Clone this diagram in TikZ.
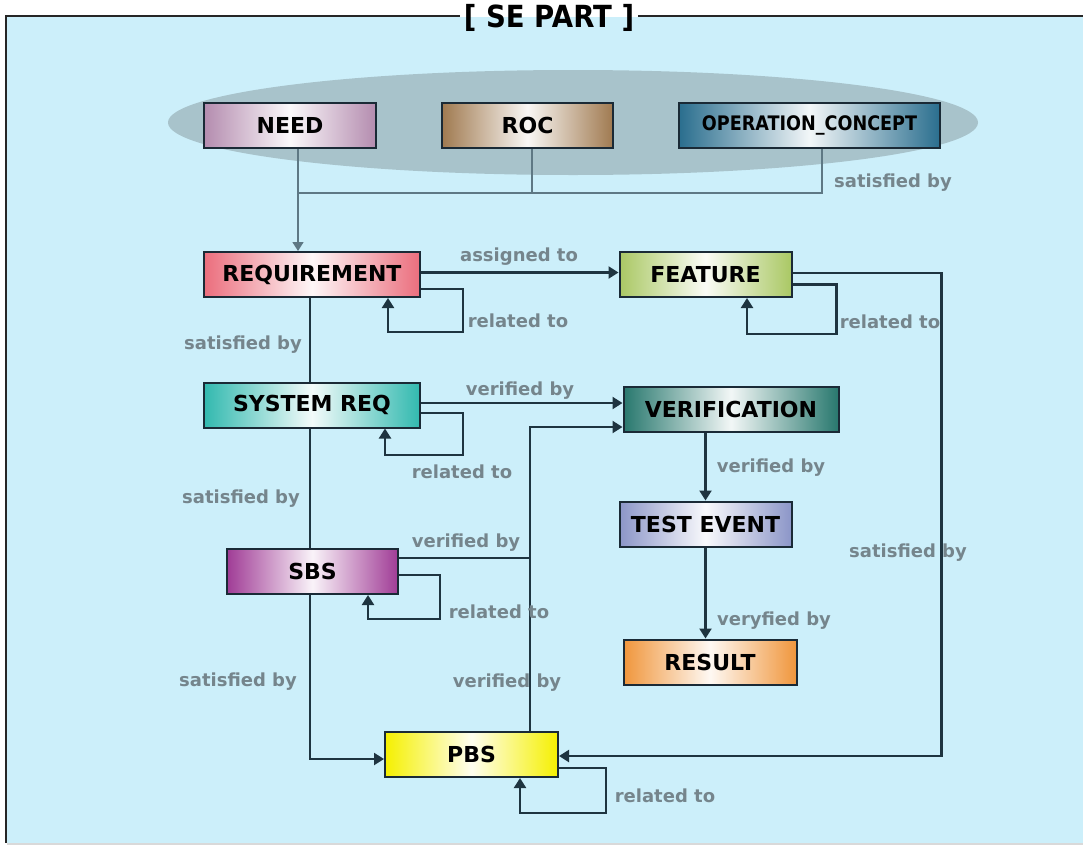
\documentclass[tikz,border=0pt]{standalone}
\usepackage{fontspec}
\setmainfont{DejaVu Sans}
\usetikzlibrary{arrows.meta,calc}
\definecolor{bg}{HTML}{CCEFFA}
\definecolor{ellc}{HTML}{A8C3CB}
\definecolor{boxline}{HTML}{1A2A36}
\definecolor{linec}{HTML}{1E3440}
\definecolor{topc}{HTML}{5E7884}
\definecolor{labgray}{HTML}{75858C}
\definecolor{needc}{HTML}{B48CAF}
\definecolor{rocc}{HTML}{A07A50}
\definecolor{opcc}{HTML}{2A6E8E}
\definecolor{reqc}{HTML}{EB6E7D}
\definecolor{featc}{HTML}{AAC864}
\definecolor{sysc}{HTML}{32B9AF}
\definecolor{verc}{HTML}{28786E}
\definecolor{testc}{HTML}{8C96C8}
\definecolor{sbsc}{HTML}{A03C96}
\definecolor{resc}{HTML}{F0963C}
\definecolor{pbsc}{HTML}{F5F000}
\newcommand{\boxfont}{\fontsize{22}{24}\selectfont\bfseries}
\newcommand{\labfont}{\fontsize{18}{20}\selectfont\bfseries}
\begin{document}
\begin{tikzpicture}[x=1pt,y=-1pt,
  box/.style={draw=boxline, line width=2pt, inner sep=0pt, left color=#1, right color=#1, middle color=#1!6, font=\boxfont, text=black},
  lab/.style={text=labgray, font=\labfont, inner sep=0pt},
  line/.style={draw=linec, line width=2.2pt},
  conn/.style={line, -{Triangle[length=10pt,width=12pt]}},
  topline/.style={draw=topc, line width=1.6pt},
  frame/.style={draw=black!85, line width=2pt}]
\useasboundingbox (0,0) rectangle (1083,846);
% frame
\fill[bg] (7,17) rectangle (1083,843);
\draw[black!15, line width=1.5pt] (7,844) -- (1083,844);
\node[font=\fontsize{29}{30}\selectfont\bfseries, inner sep=4pt] (title) at (549,18) {\scalebox{0.95}[1.05]{[ SE PART ]}};
\coordinate (tl) at (6,16);
\coordinate (tr) at (1083,16);
\coordinate (bl) at (6,843);
\draw[frame] (tl -| title.west) -- (tl) -- (bl);
\draw[frame] (tl -| title.east) -- (tr);
% ellipse
\fill[ellc] (573,122.5) ellipse [x radius=405, y radius=52.5];
% boxes
\node[box=needc, minimum width=172pt, minimum height=45pt] (need) at (290,125.5) {NEED};
\node[box=rocc, minimum width=171pt, minimum height=45pt] (roc) at (527.5,125.5) {ROC};
\node[box=opcc, minimum width=261pt, minimum height=45pt, font=\fontsize{20}{22}\selectfont\bfseries] (opc) at (809.5,125.5) {\scalebox{0.88}[1]{OPERATION\_CONCEPT}};
\node[box=reqc, minimum width=216pt, minimum height=45pt] (req) at (312,274.5) {REQUIREMENT};
\node[box=featc, minimum width=172pt, minimum height=45pt] (feat) at (705.5,274.5) {FEATURE};
\node[box=sysc, minimum width=216pt, minimum height=45pt] (sys) at (312,405) {SYSTEM REQ};
\node[box=verc, minimum width=215pt, minimum height=45pt] (verif) at (731,409.5) {VERIFICATION};
\node[box=testc, minimum width=172pt, minimum height=45pt] (test) at (705.5,524) {TEST EVENT};
\node[box=sbsc, minimum width=171pt, minimum height=45pt] (sbs) at (312.5,571.5) {SBS};
\node[box=resc, minimum width=173pt, minimum height=45pt] (result) at (710,662) {RESULT};
\node[box=pbsc, minimum width=173pt, minimum height=45pt] (pbs) at (471.5,754.5) {PBS};
% top connectors
\coordinate (busL) at (298,193);
\draw[topline] ([xshift=12.5pt]opc.south) |- (busL);
\draw[topline] ([xshift=4.5pt]roc.south) -- ([xshift=4.5pt]roc.south |- busL);
\draw[topline, -{Triangle[length=9pt,width=11pt]}] ([xshift=8pt]need.south) -- ([xshift=8pt]need.south |- req.north);
% connectors
\draw[conn] ([yshift=2pt]req.east) -- ([yshift=2pt]req.east -| feat.west);
\draw[conn] ([yshift=-14.5pt]req.east) -- ++(42,0) -- ++(0,43) -| ([xshift=76pt]req.south);
\draw[conn] ([yshift=-10pt]feat.east) -- ++(44,0) -- ++(0,49.5) -| ([xshift=41.5pt]feat.south);
\draw[conn] ([yshift=1.5pt]feat.east) -- ++(149,0) |- ([yshift=-1.5pt]pbs.east);
\draw[line] ([xshift=-2pt]req.south) -- ([xshift=-2pt]sys.north);
\draw[conn] ([yshift=2pt]sys.east) -- ([yshift=2pt]sys.east -| verif.west);
\draw[conn] ([yshift=-8pt]sys.east) -- ++(42,0) -- ++(0,42) -| ([xshift=73pt]sys.south);
\draw[line] ([xshift=-2pt]sys.south) -- ([xshift=-2pt]sys.south |- sbs.north);
\draw[conn] ([xshift=-2.5pt]sbs.south) |- ([yshift=-4.5pt]pbs.west);
\draw[conn] ([xshift=58.5pt]pbs.north) |- ([yshift=-17.5pt]verif.west);
\draw[line] ([yshift=13.5pt]sbs.east) -- ++(132,0);
\draw[conn] ([yshift=-3.5pt]sbs.east) -- ++(41,0) -- ++(0,44) -| ([xshift=55.5pt]sbs.south);
\draw[conn] (verif.south -| test.north) -- (test.north);
\draw[conn] (test.south) -- (test.south |- result.north);
\draw[conn] ([yshift=-13.5pt]pbs.east) -- ++(47,0) -- ++(0,45) -| ([xshift=48.5pt]pbs.south);
% labels
\node[lab] (l1) at (893,183) {satisfied by};
\node[lab] (l2) at (519,257) {assigned to};
\node[lab] (l3) at (518,321) {related to};
\node[lab] (l4) at (890,322) {related to};
\node[lab] (l5) at (243,345) {satisfied by};
\node[lab] (l6) at (520,391) {verified by};
\node[lab] (l7) at (462,472) {related to};
\node[lab] (l8) at (771,468) {verified by};
\node[lab] (l9) at (241,499) {satisfied by};
\node[lab] (l10) at (466,543) {verified by};
\node[lab] (l11) at (908,553) {satisfied by};
\node[lab] (l12) at (499,612) {related to};
\node[lab] (l13) at (774,621) {veryfied by};
\node[lab] (l14) at (238,682) {satisfied by};
\node[lab] (l15) at (507,683) {verified by};
\node[lab] (l16) at (665,796) {related to};
\end{tikzpicture}
\end{document}
